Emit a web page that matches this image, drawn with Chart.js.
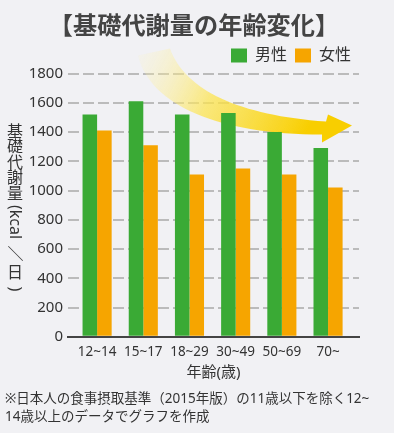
<!DOCTYPE html>
<html>
<head>
<meta charset="utf-8">
<script src="https://cdn.jsdelivr.net/npm/chart.js@4"></script>
<style>
  body { margin: 0; background: #f1f1f4; }
  #wrap { position: relative; width: 394px; height: 433px; }
  #note {
    position: absolute; left: 5px; top: 389px;
    font: 13.5px 'Noto Sans', 'Noto Sans CJK JP', sans-serif;
    line-height: 18px; color: #333;
  }
</style>
</head>
<body>
<div id="wrap">
  <canvas id="barChart" width="394" height="433"></canvas>
  <div id="note">※日本人の食事摂取基準（2015年版）の11歳以下を除く12~<br>14歳以上のデータでグラフを作成</div>
</div>
<script>
const ages = ['12~14', '15~17', '18~29', '30~49', '50~69', '70~'];
const male = [1520, 1610, 1520, 1530, 1400, 1290];
const female = [1410, 1310, 1110, 1150, 1110, 1020];
const yMax = 1800;
const yStep = 200;

const FONT = "'Noto Sans', 'Noto Sans CJK JP', sans-serif";
Chart.defaults.font.family = FONT;
Chart.defaults.color = '#333';

// curved yellow arrow behind the bars
const arrowPlugin = {
    id: 'arrow',
    beforeDatasetsDraw(chart) {
        const ctx = chart.ctx;
        const a = chart.chartArea;
        const px = (dx, dy) => [a.left + dx, a.top + dy];
        ctx.save();
        const g = ctx.createLinearGradient(a.left + 75, a.top - 25, a.left + 240, a.top + 55);
        g.addColorStop(0, 'rgba(255, 246, 190, 0.15)');
        g.addColorStop(0.45, 'rgba(252, 228, 80, 0.75)');
        g.addColorStop(1, 'rgba(248, 206, 0, 1)');
        ctx.fillStyle = g;
        ctx.beginPath();
        ctx.moveTo(...px(102, -25));
        ctx.bezierCurveTo(...px(117, 17), ...px(172, 42), ...px(258, 48));
        ctx.lineTo(...px(260, 41));
        ctx.lineTo(...px(284, 52));
        ctx.lineTo(...px(254, 69));
        ctx.lineTo(...px(254, 61));
        ctx.bezierCurveTo(...px(152, 61), ...px(82, 32), ...px(70, -18));
        ctx.closePath();
        ctx.fill();
        ctx.restore();
    }
};

// vertical y-axis title: kanji upright, latin turned; [text, turned, advance]
const yTitleParts = [['基', 0, 15.5], ['礎', 0, 15.5], ['代', 0, 15.5], ['謝', 0, 15.5], ['量', 0, 15.5],
    ['(kcal', 1, 40], ['／', 1, 23], ['日', 0, 17], [')', 1, 14]];

const yTitlePlugin = {
    id: 'yTitle',
    afterLayout(chart) {
        // centre the main title over the whole picture, not only the padded box
        const t = chart.titleBlock;
        if (t) { t.right = 388; t.width = t.right - t.left; }
    },
    afterDraw(chart) {
        const ctx = chart.ctx;
        const a = chart.chartArea;
        ctx.save();
        ctx.font = '16px ' + FONT;
        ctx.fillStyle = '#333';
        ctx.textAlign = 'center';
        ctx.textBaseline = 'middle';
        let y = a.top + 51;
        const x = 15;
        yTitleParts.forEach(([t, r, h]) => {
            if (r) {
                ctx.save();
                ctx.translate(x, y + h / 2);
                ctx.rotate(Math.PI / 2);
                ctx.fillText(t, 0, 0);
                ctx.restore();
            } else {
                ctx.fillText(t, x, y + h / 2);
            }
            y += h;
        });
        ctx.restore();
    }
};

const ctx = document.getElementById('barChart').getContext('2d');
const myChart = new Chart(ctx, {
    type: 'bar',
    data: {
        datasets: [{
            label: '男性',
            data: male.map((v, i) => ({ x: i, y: v })),
            backgroundColor: '#3aaa35'
        }, {
            label: '女性',
            data: female.map((v, i) => ({ x: i, y: v })),
            backgroundColor: '#f6a500'
        }]
    },
    options: {
        responsive: false,
        animation: false,
        barPercentage: 1,
        categoryPercentage: 0.63,
        layout: { padding: { left: 0, right: 35, top: 0, bottom: 51 } },
        plugins: {
            title: {
                display: true,
                text: '【基礎代謝量の年齢変化】',
                color: '#444',
                font: { size: 24.2, weight: 'bold' },
                padding: { top: 11, bottom: -2 }
            },
            legend: {
                position: 'top',
                align: 'end',
                labels: { boxWidth: 16, boxHeight: 14, font: { size: 16 }, color: '#333', padding: 8 }
            },
            tooltip: { enabled: false }
        },
        scales: {
            x: {
                type: 'linear',
                offset: false,
                min: -0.63,
                max: 5.67,
                grid: { display: false, drawTicks: false },
                border: { color: '#444', width: 2, z: 1 },
                ticks: {
                    stepSize: 1,
                    includeBounds: false,
                    autoSkip: false,
                    maxRotation: 0,
                    padding: 7,
                    font: { size: 13.5 },
                    color: '#333',
                    callback: v => ages[v] ?? ''
                },
                title: {
                    display: true,
                    text: '年齢(歳)',
                    font: { size: 15 },
                    color: '#333',
                    padding: { top: -3, bottom: 0 }
                }
            },
            y: {
                min: 0,
                max: yMax,
                afterFit: s => { s.width = 68; s.paddingTop = 73.5; },
                grid: { color: '#bbb', lineWidth: 2, drawTicks: false },
                border: { display: false, dash: [11, 4] },
                ticks: { stepSize: yStep, padding: 5, font: { size: 15 }, color: '#333', callback: v => v }
            }
        }
    },
    plugins: [arrowPlugin, yTitlePlugin]
});
</script>
</body>
</html>
